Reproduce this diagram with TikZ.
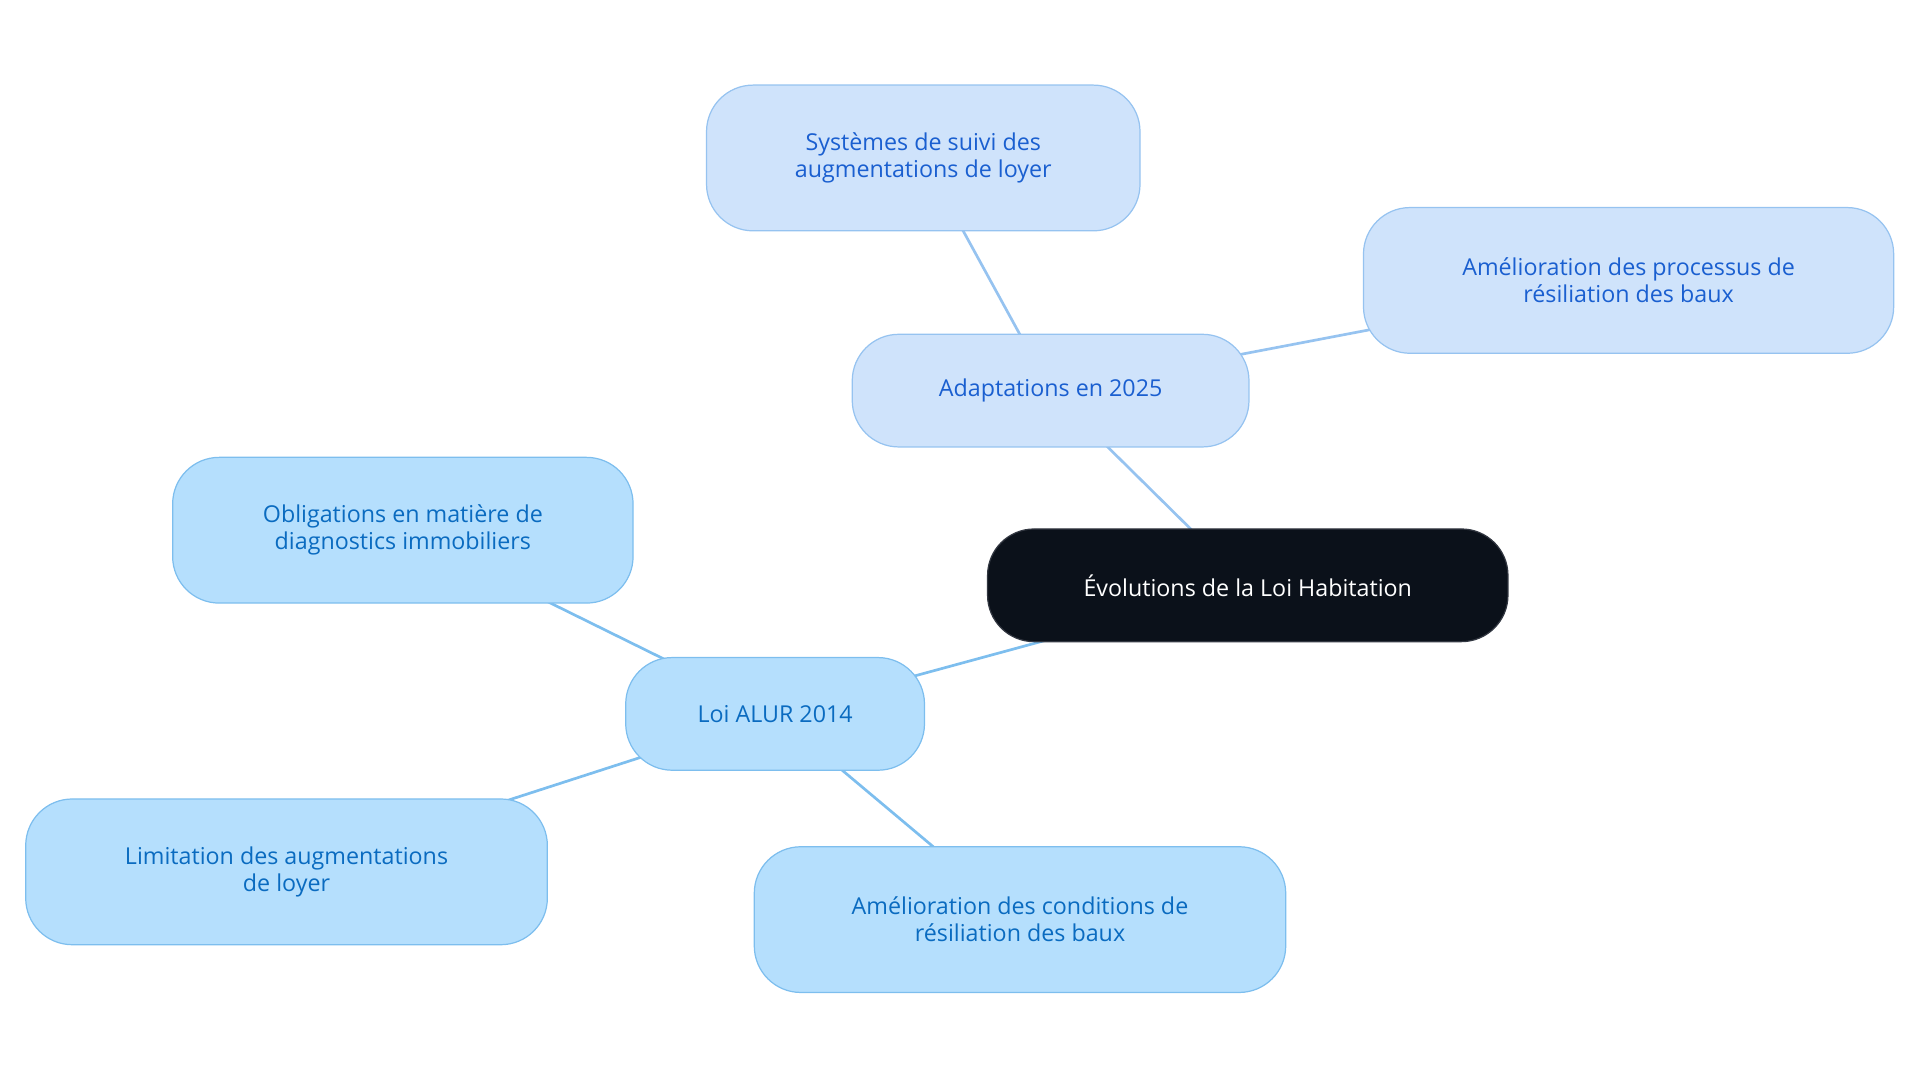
\documentclass[tikz,border=0pt]{standalone}
\usepackage{fontspec}
\setmainfont{Open Sans}
\begin{document}
\begin{tikzpicture}[x=1pt,y=-1pt,
 base/.style={rounded corners=38pt,align=center,font=\fontsize{19}{22}\selectfont,draw,line width=1pt,inner sep=0pt},
 blueA/.style={base,fill=blue!0!white,fill={rgb,255:red,207;green,227;blue,251},draw={rgb,255:red,150;green,195;blue,240},text={rgb,255:red,26;green,95;blue,208}},
 blueB/.style={base,fill={rgb,255:red,181;green,223;blue,253},draw={rgb,255:red,125;green,190;blue,238},text={rgb,255:red,10;green,107;blue,192}},
 centre/.style={base,fill={rgb,255:red,11;green,17;blue,26},draw={rgb,255:red,50;green,55;blue,65},text=white},
 linkA/.style={line width=2.2pt,draw={rgb,255:red,150;green,195;blue,240}},
 linkB/.style={line width=2.2pt,draw={rgb,255:red,125;green,190;blue,238}}]
\useasboundingbox (0,0) rectangle (1568,884);
\path[linkA] (858,319) -- (754,129);
\path[linkA] (858,319) -- (1330,229);
\path[linkA] (1019,478) -- (858,319);
\path[linkB] (1019,478) -- (633,583);
\path[linkB] (633,583) -- (329,433);
\path[linkB] (633,583) -- (234,712);
\path[linkB] (633,583) -- (833,751);
\node[centre,minimum width=425pt,minimum height=92pt] (c) at (1019,478) {Évolutions de la Loi Habitation};
\node[blueA,minimum width=324pt,minimum height=92pt] (a) at (858,319) {Adaptations en 2025};
\node[blueA,minimum width=354pt,minimum height=119pt] (s) at (754,129) {Systèmes de suivi des\\augmentations de loyer};
\node[blueA,minimum width=433pt,minimum height=119pt] (p) at (1330,229) {Amélioration des processus de\\résiliation des baux};
\node[blueB,minimum width=244pt,minimum height=92pt] (l) at (633,583) {Loi ALUR 2014};
\node[blueB,minimum width=376pt,minimum height=119pt] (o) at (329,433) {Obligations en matière de\\diagnostics immobiliers};
\node[blueB,minimum width=426pt,minimum height=119pt] (m) at (234,712) {Limitation des augmentations\\de loyer};
\node[blueB,minimum width=434pt,minimum height=119pt] (r) at (833,751) {Amélioration des conditions de\\résiliation des baux};
\end{tikzpicture}
\end{document}
